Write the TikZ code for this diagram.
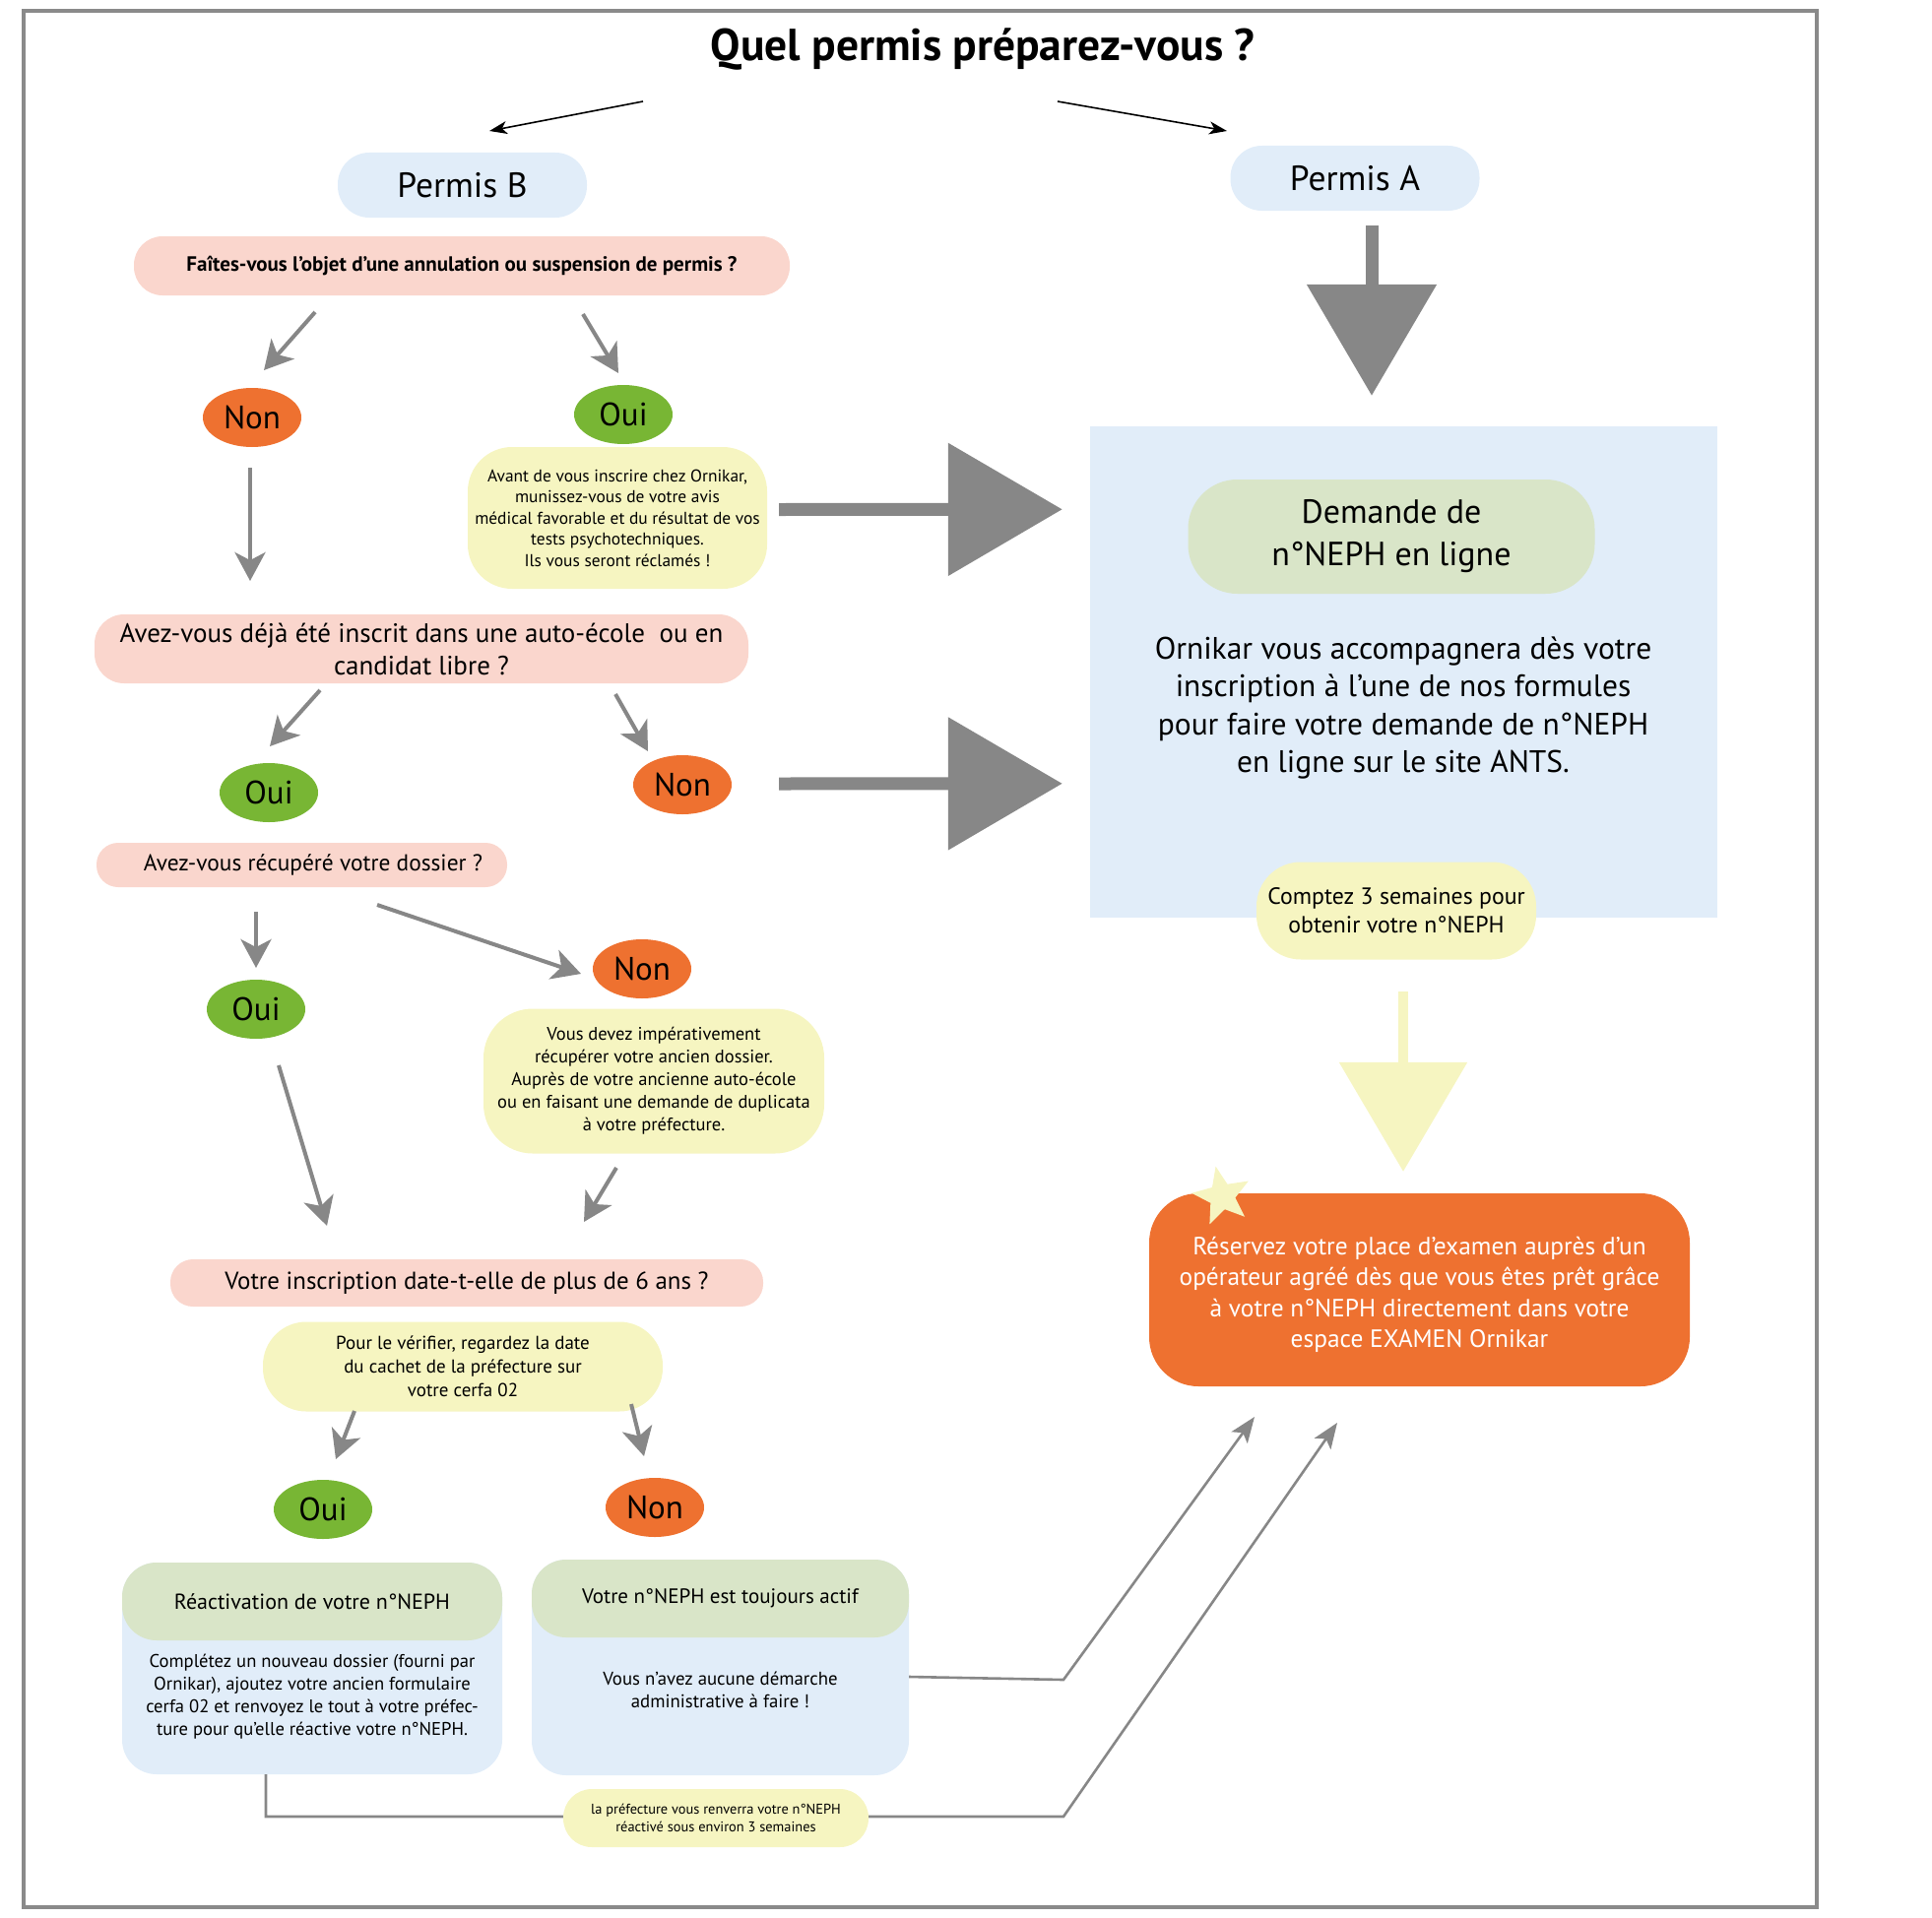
\documentclass[tikz,border=0pt]{standalone}
\usepackage{fontspec}
\setmainfont{PT Sans}
\usetikzlibrary{arrows.meta,calc,shapes.geometric}

\definecolor{paleblue}{HTML}{E1EDF9}
\definecolor{palepink}{HTML}{FAD6CD}
\definecolor{paleyellow}{HTML}{F6F5C1}
\definecolor{palegreen}{HTML}{D9E5C8}
\definecolor{orniorange}{HTML}{EE7130}
\definecolor{ornigreen}{HTML}{78B634}
\definecolor{arrowgray}{HTML}{878787}
\definecolor{framegray}{HTML}{8A8A8A}

\tikzset{
	permis/.style={fill=paleblue, rounded corners=32pt, minimum width=253pt, minimum height=66pt, inner sep=0pt, font=\fontsize{35.5}{40}\selectfont},
	question/.style={fill=palepink, inner sep=0pt, align=center},
	notebox/.style={fill=paleyellow, inner sep=0pt, align=center},
	ouinode/.style={ellipse, fill=ornigreen, minimum width=100pt, minimum height=60pt, inner sep=0pt, font=\fontsize{33}{36}\selectfont},
	nonnode/.style={ellipse, fill=orniorange, minimum width=100pt, minimum height=60pt, inner sep=0pt, font=\fontsize{33}{36}\selectfont},
	grayarrow/.style={draw=arrowgray, line width=4pt, -{Stealth[length=29pt,width=31pt,inset=8pt]}},
	thinarrow/.style={draw=black, line width=1.6pt, -{Stealth[length=18pt,width=13pt,inset=5pt]}},
	linkarrow/.style={draw=arrowgray, line width=2.6pt, -{Stealth[length=26pt,width=20pt,inset=6pt]}},
	bigarrow/.style={draw=#1, line width=13pt, -{Triangle[length=116pt,width=132pt]}}
}

\begin{document}
\begin{tikzpicture}[x=1pt, y=-1pt]
	\useasboundingbox (0,0) rectangle (1962,1948);
	\draw[framegray, line width=4pt] (24,11) rectangle (1845,1937);
	
	% Title and the two licences
	\node (title) [font=\bfseries\fontsize{45.5}{50}\selectfont] at (998,50) {Quel permis préparez-vous ?};
	\node (pb) [permis] at (469.5,188) {Permis B};
	\node (pa) [permis] at (1376,181) {Permis A};
	
	% Permis B branch
	\node (q1) [question, minimum width=666pt, minimum height=60pt, rounded corners=29pt, font=\bfseries\fontsize{21}{24}\selectfont] at (469,270) {Faîtes-vous l’objet d’une annulation ou suspension de permis ?};
	\node (non1) [nonnode] at (256,424) {Non};
	\node (oui1) [ouinode] at (633,421) {Oui};
	\node (note1) [notebox, minimum width=304pt, minimum height=144pt, rounded corners=45pt, font=\fontsize{17.4}{21.5}\selectfont] at (627,526) {Avant de vous inscrire chez Ornikar,\\ munissez-vous de votre avis\\ médical favorable et du résultat de vos\\ tests psychotechniques.\\ Ils vous seront réclamés !};
	
	\node (q2) [question, minimum width=664pt, minimum height=70pt, rounded corners=30pt, font=\fontsize{27}{33}\selectfont] at (428,659) {Avez-vous déjà été inscrit dans une auto-école\ \ ou en\\ candidat libre ?};
	\node (oui2) [ouinode] at (273,805) {Oui};
	\node (non2) [nonnode] at (693,797) {Non};
	
	\node (q3) [question, minimum width=417pt, minimum height=45pt, rounded corners=22pt] at (306.5,878.5) {};
	\node (q3text) [font=\fontsize{23.4}{27}\selectfont] at (318,878.5) {Avez-vous récupéré votre dossier ?};
	\node (oui3) [ouinode] at (260,1025) {Oui};
	\node (non3) [nonnode] at (652,984) {Non};
	\node (note2) [notebox, minimum width=346pt, minimum height=147pt, rounded corners=50pt, font=\fontsize{18.5}{23}\selectfont] at (664,1098) {Vous devez impérativement\\ récupérer votre ancien dossier.\\ Auprès de votre ancienne auto-école\\ ou en faisant une demande de duplicata\\ à votre préfecture.};
	
	\node (q4) [question, minimum width=602pt, minimum height=48pt, rounded corners=23pt, font=\fontsize{24.9}{28}\selectfont] at (474,1303) {Votre inscription date-t-elle de plus de 6 ans ?};
	\node (note3) [notebox, minimum width=406pt, minimum height=91pt, rounded corners=44pt, font=\fontsize{19}{24}\selectfont] at (470,1388) {Pour le vérifier, regardez la date\\ du cachet de la préfecture sur\\ votre cerfa 02};
	\node (oui4) [ouinode] at (328,1533) {Oui};
	\node (non4) [nonnode] at (665,1531) {Non};
	
	% Result boxes
	\node (boxl) [fill=paleblue, rounded corners=35pt, minimum width=386pt, minimum height=215pt] at (317,1694.5) {};
	\node (headl) [fill=palegreen, rounded corners=35pt, minimum width=386pt, minimum height=79pt, font=\fontsize{22}{25}\selectfont] at (317,1626.5) {Réactivation de votre n°NEPH};
	\node (bodyl) [align=center, font=\fontsize{18.6}{23}\selectfont] at (317,1723) {Complétez un nouveau dossier (fourni par\\ Ornikar), ajoutez votre ancien formulaire\\ cerfa 02 et renvoyez le tout à votre préfec-\\ ture pour qu’elle réactive votre n°NEPH.};
	\node (boxr) [fill=paleblue, rounded corners=35pt, minimum width=383pt, minimum height=219pt] at (731.5,1693.5) {};
	\node (headr) [fill=palegreen, rounded corners=35pt, minimum width=383pt, minimum height=79pt, font=\fontsize{21}{25}\selectfont] at (731.5,1623.5) {Votre n°NEPH est toujours actif};
	\node (bodyr) [align=center, font=\fontsize{18.8}{23}\selectfont] at (731.5,1716.5) {Vous n’avez aucune démarche\\ administrative à faire !};
	
	% Permis A side
	\node (blue) [fill=paleblue, minimum width=637pt, minimum height=499pt] at (1425.5,682.5) {};
	\node (demande) [fill=palegreen, rounded corners=50pt, minimum width=413pt, minimum height=116pt, align=center, font=\fontsize{34}{43}\selectfont] at (1413,545) {Demande de\\ n°NEPH en ligne};
	\node (bluetext) [align=center, font=\fontsize{31.5}{38.5}\selectfont] at (1425,719) {Ornikar vous accompagnera dès votre\\ inscription à l’une de nos formules\\ pour faire votre demande de n°NEPH\\ en ligne sur le site ANTS.};
	\node (comptez) [notebox, minimum width=284pt, minimum height=99pt, rounded corners=45pt, font=\fontsize{23.8}{29}\selectfont] at (1418,925) {Comptez 3 semaines pour\\ obtenir votre n°NEPH};
	\node (orange) [fill=orniorange, rounded corners=50pt, minimum width=549pt, minimum height=196pt] at (1441.5,1310) {};
	\node (orangetext) [align=center, text=white, font=\fontsize{25.4}{31.5}\selectfont] at (1441.5,1315) {Réservez votre place d’examen auprès d’un\\ opérateur agréé dès que vous êtes prêt grâce\\ à votre n°NEPH directement dans votre\\ espace EXAMEN Ornikar};
	\node (star) [star, star points=5, star point ratio=2.3, fill=paleyellow, minimum size=62pt, inner sep=0pt, rotate=12] at (1241,1215) {};
	
	% Arrows
	\draw[thinarrow] ($(title)+(-345,53)$) -- ($(pb)+(27.5,-55)$);
	\draw[thinarrow] ($(title)+(76,53)$) -- ($(pa)+(-130,-48)$);
	\draw[grayarrow] ($(q1)+(-149,47)$) -- ($(non1)+(12,-48)$);
	\draw[grayarrow] ($(q1)+(123,49)$) -- ($(oui1)+(-5,-42)$);
	\draw[grayarrow] ($(non1)+(-2,51)$) -- ($(q2)+(-174,-69)$);
	\draw[grayarrow] ($(q2)+(-103,42)$) -- ($(oui2)+(1,-47)$);
	\draw[grayarrow] ($(q2)+(197,46)$) -- ($(non2)+(-35,-34)$);
	\draw[grayarrow] ($(q3)+(-46.5,47.5)$) -- ($(oui3)+(0,-42)$);
	\draw[grayarrow] ($(q3)+(76.5,40.5)$) -- ($(non3)+(-62,5)$);
	\draw[grayarrow] ($(oui3)+(23,57)$) -- ($(q4)+(-142,-58)$);
	\draw[grayarrow] ($(note2)+(-38,88)$) -- ($(q4)+(119,-62)$);
	\draw[grayarrow] ($(note3)+(-110,45)$) -- ($(oui4)+(13,-51)$);
	\draw[grayarrow] ($(note3)+(171,38)$) -- ($(non4)+(-11,-52)$);
	
	\draw[bigarrow=arrowgray] ($(note1.east)+(12,-8.5)$) -- ($(blue.north west)+(-28,84.5)$);
	\draw[bigarrow=arrowgray] ($(non2.east)+(48,-1)$) -- ($(blue.north west)+(-28,363)$);
	\draw[bigarrow=arrowgray, -{Triangle[length=113pt,width=129pt]}] ($(pa.south)+(17,14.5)$) -- ($(blue.north)+(-32.5,-31)$);
	\draw[bigarrow=paleyellow, line width=10pt, -{Triangle[length=111pt,width=128pt]}] ($(comptez.south)+(7,32.5)$) -- ($(orange.north)+(-16.5,-22)$);
	
	% Links to the exam box
	\coordinate (bendA) at (1080,1706);
	\coordinate (bendB) at (1080,1845);
	\draw[linkarrow] ($(boxr.east)+(0,9.5)$) -- (bendA) -- ($(orange)+(-167.5,129)$);
	\draw[linkarrow] ($(boxl.south)+(-47,0)$) |- (bendB) -- ($(orange)+(-83.5,135)$);
	\node (note4) [notebox, minimum width=310pt, minimum height=59pt, rounded corners=29pt, font=\fontsize{14.4}{18}\selectfont] at (727,1846.5) {la préfecture vous renverra votre n°NEPH\\ réactivé sous environ 3 semaines};
\end{tikzpicture}
\end{document}
